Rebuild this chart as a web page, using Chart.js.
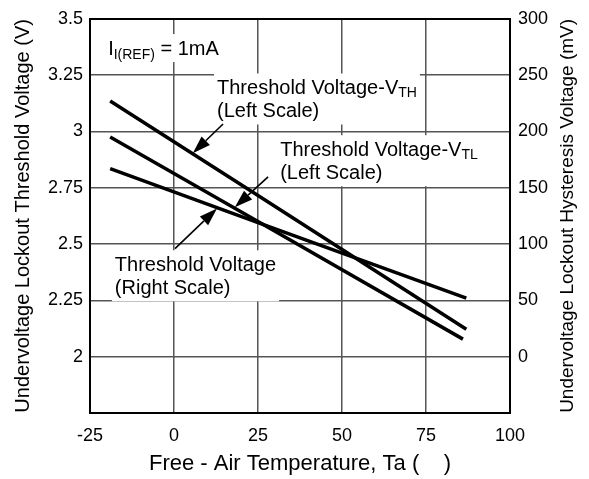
<!DOCTYPE html>
<html>
<head>
<meta charset="utf-8">
<script src="https://cdn.jsdelivr.net/npm/chart.js@4.4.0/dist/chart.umd.min.js"></script>
<style>
  body { margin: 0; background: #fff; }
  canvas { display: block; }
</style>
</head>
<body>
<canvas id="myChart" width="589" height="479"></canvas>
<script>
// tick values
const xTicks = [-25, 0, 25, 50, 75, 100];
const leftTicks = [2, 2.25, 2.5, 2.75, 3, 3.25, 3.5];
const rightTicks = [0, 50, 100, 150, 200, 250, 300];

// V_TH (left scale, V)
const vthTemp = [-19, 25, 87];
const vthVolts = [3.135, 2.716, 2.122];
// V_TL (left scale, V)
const vtlTemp = [-19, 25, 86];
const vtlVolts = [2.975, 2.600, 2.078];
// hysteresis (right scale, mV)
const hysTemp = [-19, 25, 87];
const hysMv = [167, 119, 52];

const FONT = 'Liberation Sans, Arial, sans-serif';
const gridGray = '#555';
const rightTitle = 'Undervoltage Lockout Hysteresis Voltage (mV)';

function pts(xs, ys) {
    return xs.map((x, i) => ({x: x, y: ys[i]}));
}

// text notes, placed in data units (temp, left-scale volts)
const notes = [
    {x: -19.6, y: 3.339, lines: [[['I', 20], ['I(REF)', 14, 4], [' = 1mA', 20]]]},
    {x: 12.8, y: 3.164, lines: [[['Threshold Voltage-V', 20], ['TH', 14, 3]], [['(Left Scale)', 20]]]},
    {x: 31.6, y: 2.890, lines: [[['Threshold Voltage-V', 20], ['TL', 14, 3]], [['(Left Scale)', 20]]]},
    {x: -17.6, y: 2.379, lines: [[['Threshold Voltage', 20]], [['(Right Scale)', 20]]]},
];
const arrows = [
    {from: [14.6, 3.033], to: [5.6, 2.903]},
    {from: [28.0, 2.798], to: [18.1, 2.663]},
    {from: [0.3, 2.480], to: [12.8, 2.658]},
];

const notePlugin = {
    id: 'notes',
    beforeDatasetsDraw(chart) {
        const ctx = chart.ctx;
        const xs = chart.scales.x, ys = chart.scales.y;
        ctx.save();
        ctx.textBaseline = 'alphabetic';
        ctx.textAlign = 'left';
        notes.forEach(n => {
            const px = xs.getPixelForValue(n.x);
            const py = ys.getPixelForValue(n.y);
            let w = 0;
            n.lines.forEach(line => {
                let lw = 0;
                line.forEach(p => { ctx.font = p[1] + 'px ' + FONT; lw += ctx.measureText(p[0]).width; });
                w = Math.max(w, lw);
            });
            const h = 23 * (n.lines.length - 1);
            ctx.fillStyle = '#fff';
            ctx.fillRect(px - 3, py - 21, w + 6, h + 28);
            ctx.fillStyle = '#000';
            n.lines.forEach((line, li) => {
                let cx = px;
                line.forEach(p => {
                    ctx.font = p[1] + 'px ' + FONT;
                    ctx.fillText(p[0], cx, py + li * 23 + (p[2] || 0));
                    cx += ctx.measureText(p[0]).width;
                });
            });
        });
        arrows.forEach(a => {
            const x1 = xs.getPixelForValue(a.from[0]), y1 = ys.getPixelForValue(a.from[1]);
            const x2 = xs.getPixelForValue(a.to[0]), y2 = ys.getPixelForValue(a.to[1]);
            const ang = Math.atan2(y2 - y1, x2 - x1);
            const len = 18, half = 6;
            const bx = x2 - len * Math.cos(ang), by = y2 - len * Math.sin(ang);
            ctx.strokeStyle = '#000';
            ctx.lineWidth = 1.6;
            ctx.beginPath();
            ctx.moveTo(x1, y1);
            ctx.lineTo(bx, by);
            ctx.stroke();
            ctx.beginPath();
            ctx.moveTo(x2, y2);
            ctx.lineTo(bx + half * Math.sin(ang), by - half * Math.cos(ang));
            ctx.lineTo(bx - half * Math.sin(ang), by + half * Math.cos(ang));
            ctx.closePath();
            ctx.fillStyle = '#000';
            ctx.fill();
        });
        ctx.restore();
    },
    afterDraw(chart) {
        // right axis title reads bottom to top, like the left one
        const ctx = chart.ctx;
        const area = chart.chartArea;
        ctx.save();
        ctx.translate(568, (area.top + area.bottom) / 2);
        ctx.rotate(-Math.PI / 2);
        ctx.font = '19px ' + FONT;
        ctx.fillStyle = '#000';
        ctx.textAlign = 'center';
        ctx.textBaseline = 'middle';
        ctx.fillText(rightTitle, 0, 0);
        ctx.restore();
    }
};

const lineStyle = {
    borderColor: '#000',
    backgroundColor: '#000',
    borderWidth: 3.5,
    pointRadius: 0,
    tension: 0,
    fill: false,
};

const config = {
    type: 'line',
    data: {
        datasets: [
            Object.assign({label: 'VTH', data: pts(vthTemp, vthVolts), yAxisID: 'y'}, lineStyle),
            Object.assign({label: 'VTL', data: pts(vtlTemp, vtlVolts), yAxisID: 'y'}, lineStyle),
            Object.assign({label: 'Hysteresis', data: pts(hysTemp, hysMv), yAxisID: 'y2'}, lineStyle),
        ]
    },
    options: {
        responsive: false,
        animation: false,
        layout: {padding: {left: 11, right: 9, top: 13, bottom: 0}},
        plugins: {legend: {display: false}, tooltip: {enabled: false}},
        scales: {
            x: {
                type: 'linear',
                min: -25,
                max: 100,
                afterBuildTicks: s => { s.ticks = xTicks.map(v => ({value: v})); },
                afterFit: s => { s.height = 66; },
                grid: {
                    drawTicks: false,
                    color: c => (c.tick && (c.tick.value === -25 || c.tick.value === 100)) ? '#000' : gridGray,
                    lineWidth: c => (c.tick && (c.tick.value === -25 || c.tick.value === 100)) ? 2 : 1.5,
                },
                border: {color: '#000', width: 2},
                ticks: {color: '#000', font: {family: FONT, size: 18}, padding: 12, maxRotation: 0,
                    callback: v => String(v)},
                title: {display: true, text: 'Free - Air Temperature, Ta (    )', color: '#000',
                    font: {family: FONT, size: 22, lineHeight: 1.4}, padding: 0},
            },
            y: {
                position: 'left',
                min: 1.75,
                max: 3.5,
                afterBuildTicks: s => { s.ticks = leftTicks.map(v => ({value: v})); },
                afterFit: s => { s.width = 79; },
                grid: {
                    drawTicks: false,
                    color: c => (c.tick && c.tick.value === 3.5) ? '#000' : gridGray,
                    lineWidth: c => (c.tick && c.tick.value === 3.5) ? 2 : 1.5,
                },
                border: {color: '#000', width: 2},
                ticks: {color: '#000', font: {family: FONT, size: 18}, padding: 7,
                    callback: v => String(v)},
                title: {display: true, text: 'Undervoltage Lockout Threshold Voltage (V)', color: '#000',
                    font: {family: FONT, size: 20}, padding: 0},
            },
            y2: {
                position: 'right',
                min: -50,
                max: 300,
                afterBuildTicks: s => { s.ticks = rightTicks.map(v => ({value: v})); },
                afterFit: s => { s.width = 70; },
                grid: {display: false, drawTicks: false},
                border: {color: '#000', width: 2},
                ticks: {color: '#000', font: {family: FONT, size: 18}, padding: 8,
                    callback: v => String(v)},
                title: {display: false},
            },
        }
    },
    plugins: [notePlugin]
};

const myChart = new Chart(document.getElementById('myChart'), config);
</script>
</body>
</html>
